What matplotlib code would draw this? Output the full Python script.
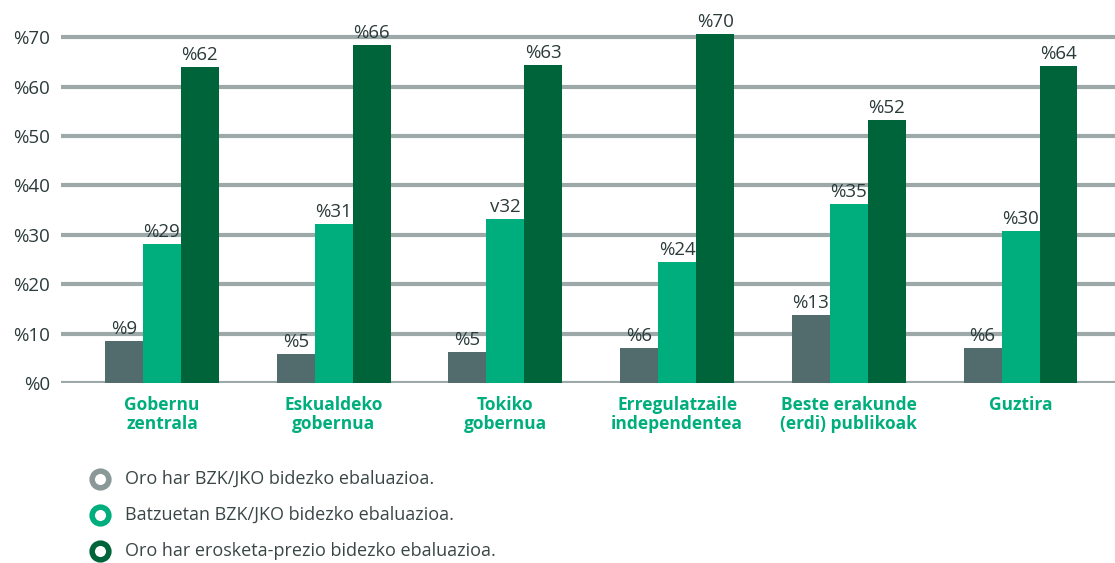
import numpy as np
import matplotlib
matplotlib.use('Agg')
import matplotlib.pyplot as plt

categories = ['Gobernu\nzentrala', 'Eskualdeko\ngobernua', 'Tokiko\ngobernua',
              'Erregulatzaile\nindependentea', 'Beste erakunde\n(erdi) publikoak', 'Guztira']
series_names = ['Oro har BZK/JKO bidezko ebaluazioa.',
                'Batzuetan BZK/JKO bidezko ebaluazioa.',
                'Oro har erosketa-prezio bidezko ebaluazioa.']
grey_vals = [8.5, 5.9, 6.3, 7.1, 13.8, 7.1]
teal_vals = [28.1, 32.2, 33.2, 24.5, 36.2, 30.8]
dark_vals = [64.0, 68.4, 64.4, 70.6, 53.2, 64.2]
grey_labels = ['%9', '%5', '%5', '%6', '%13', '%6']
teal_labels = ['%29', '%31', 'v32', '%24', '%35', '%30']
dark_labels = ['%62', '%66', '%63', '%70', '%52', '%64']
yticks = [0, 10, 20, 30, 40, 50, 60, 70]
ytick_labels = ['%0', '%10', '%20', '%30', '%40', '%50', '%60', '%70']

colors = ['#526b6c', '#00ad7c', '#00643a']
text_c = '#2b3a3a'
plt.rcParams['font.family'] = ['Open Sans', 'DejaVu Sans']

fig = plt.figure(figsize=(11.15, 5.63), dpi=100)
ax = fig.add_axes([0.0547, 0.3197, 0.9453, 0.6583])

x = np.arange(len(categories))
w = 0.221
for vals, labs, c, off in zip([grey_vals, teal_vals, dark_vals],
                              [grey_labels, teal_labels, dark_labels],
                              colors, [-w, 0, w]):
    bars = ax.bar(x + off, vals, w, color=c, zorder=3)
    ax.bar_label(bars, labels=labs, padding=2, fontsize=13.5, color=text_c)

for t in yticks:
    ax.axhline(t, color='#9ca9a8', lw=3, zorder=1)

ax.set_xlim(-0.588, 5.55)
ax.set_ylim(0, 75)
ax.set_yticks(yticks)
ax.set_yticklabels(ytick_labels, fontsize=13.5, color=text_c)
ax.set_xticks(x)
ax.set_xticklabels(categories, fontsize=12.5, fontweight='bold', color='#00ad7c',
                   linespacing=1.1)
ax.tick_params(length=0, pad=9)
ax.tick_params(axis='y', pad=8)
for s in ax.spines.values():
    s.set_visible(False)

# legend drawn in pixel coords
lax = fig.add_axes([0, 0, 1, 1])
lax.set_xlim(0, 1115)
lax.set_ylim(563, 0)
lax.axis('off')
leg_colors = ['#8a9998', '#00ad7c', '#00643a']
for i, (name, c) in enumerate(zip(series_names, leg_colors)):
    yy = 479 + i * 36
    lax.plot(100, yy, marker='o', ms=12, mfc='white', mec=c, mew=4)
    lax.text(125, yy, name, fontsize=13, color='#3a4646', va='center')

fig.savefig('out.png', dpi=100)
